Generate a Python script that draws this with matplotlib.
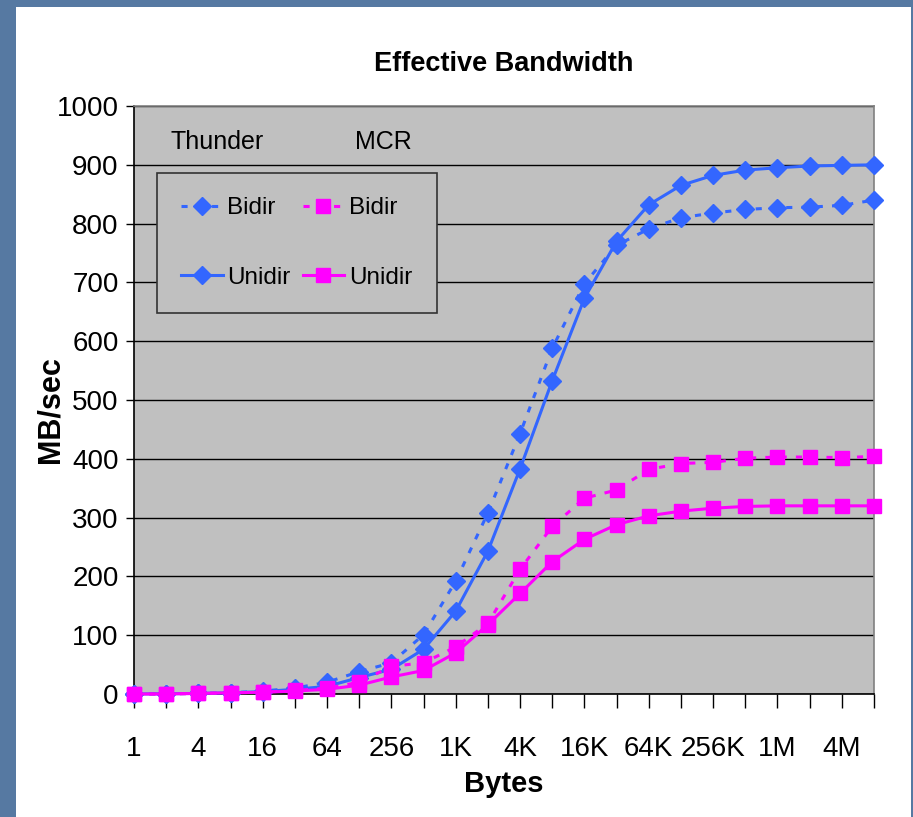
import matplotlib
matplotlib.use("Agg")
import matplotlib.pyplot as plt
from matplotlib import font_manager
from matplotlib.patches import Rectangle

# message sizes in bytes, 1 .. 8M
sizes = ["1", "2", "4", "8", "16", "32", "64", "128", "256", "512",
         "1K", "2K", "4K", "8K", "16K", "32K", "64K", "128K", "256K", "512K",
         "1M", "2M", "4M", "8M"]

# MB/sec
thunder_bidir = [0, 0.5, 1, 2, 5, 10, 20, 38, 53, 101, 192, 308, 443, 588,
                 698, 763, 791, 810, 818, 824, 827, 828, 831, 840]
thunder_unidir = [0, 0.5, 1, 2, 4, 8, 13, 28, 42, 76, 141, 243, 383, 533,
                  673, 770, 832, 865, 882, 891, 895, 898, 899, 900]
mcr_bidir = [0, 0, 1, 2, 3, 6, 10, 20, 47, 53, 80, 120, 212, 285,
             333, 347, 382, 392, 394, 401, 403, 403, 402, 404]
mcr_unidir = [0, 0, 1, 2, 3, 5, 8, 15, 29, 40, 70, 118, 171, 225,
              263, 288, 303, 311, 316, 319, 320, 320, 320, 320]

names = {f.name for f in font_manager.fontManager.ttflist}
family = "Liberation Sans Narrow" if "Liberation Sans Narrow" in names else "Liberation Sans"
plt.rcParams["font.family"] = [family, "DejaVu Sans"]

BLUE = "#3366ff"
MAGENTA = "#ff00ff"

fig = plt.figure(figsize=(9.13, 8.17), dpi=100)
fig.patch.set_facecolor("#5679a2")
# white chart area
fig.add_artist(Rectangle((16 / 913, 0), (911 - 16) / 913, (817 - 7) / 817,
                         transform=fig.transFigure, facecolor="white",
                         edgecolor="none", zorder=0))

ax = fig.add_axes([134 / 913, 1 - 694 / 817, 740 / 913, 588 / 817])
ax.set_facecolor("#c0c0c0")

x = list(range(len(sizes)))
ax.plot(x, thunder_bidir, color=BLUE, lw=2.2, ls=(0, (2, 3)), marker="D",
        ms=9, label="Bidir", clip_on=False, zorder=3)
ax.plot(x, thunder_unidir, color=BLUE, lw=2.2, marker="D", ms=9,
        label="Unidir", clip_on=False, zorder=3)
ax.plot(x, mcr_bidir, color=MAGENTA, lw=2.2, ls=(0, (2, 3)), marker="s",
        ms=9.5, label="Bidir", clip_on=False, zorder=3)
ax.plot(x, mcr_unidir, color=MAGENTA, lw=2.2, marker="s", ms=9.5,
        label="Unidir", clip_on=False, zorder=3)

ax.set_xlim(0, len(sizes) - 1)
ax.set_ylim(0, 1000)
ax.set_yticks(range(0, 1001, 100))
ax.yaxis.grid(True, color="black", lw=1)
ax.set_axisbelow(True)

ax.set_xticks(x)
ax.set_xticklabels([s if i % 2 == 0 else "" for i, s in enumerate(sizes)])
ax.tick_params(axis="x", length=10, width=1, pad=20, labelsize=20)
ax.tick_params(axis="y", length=6, width=1, pad=5, labelsize=20)

for side in ("top", "right"):
    ax.spines[side].set_color("#808080")
    ax.spines[side].set_linewidth(1.2)
for side in ("left", "bottom"):
    ax.spines[side].set_color("black")
    ax.spines[side].set_linewidth(1.2)

ax.set_title("Effective Bandwidth", fontsize=19.5, fontweight="bold", pad=25)
ax.set_xlabel("Bytes", fontsize=21, fontweight="bold", labelpad=6)
ax.set_ylabel("MB/sec", fontsize=22, fontweight="bold")
ax.yaxis.set_label_coords(-0.093, 0.483)

ax.text(0.049, 0.939, "Thunder", transform=ax.transAxes, fontsize=18,
        va="center", ha="left")
ax.text(0.299, 0.939, "MCR", transform=ax.transAxes, fontsize=18,
        va="center", ha="left")

leg = ax.legend(loc="upper left", bbox_to_anchor=(0.031, 0.886), ncol=2,
                fontsize=17.5, frameon=True, fancybox=False, handlelength=1.7,
                handletextpad=0.2, columnspacing=0.5, labelspacing=1.95,
                borderpad=1.0, borderaxespad=0)
frame = leg.get_frame()
frame.set_facecolor("#c0c0c0")
frame.set_edgecolor("#333333")
frame.set_linewidth(1.2)
frame.set_alpha(1)

fig.savefig("out.png", dpi=100, facecolor=fig.get_facecolor())
